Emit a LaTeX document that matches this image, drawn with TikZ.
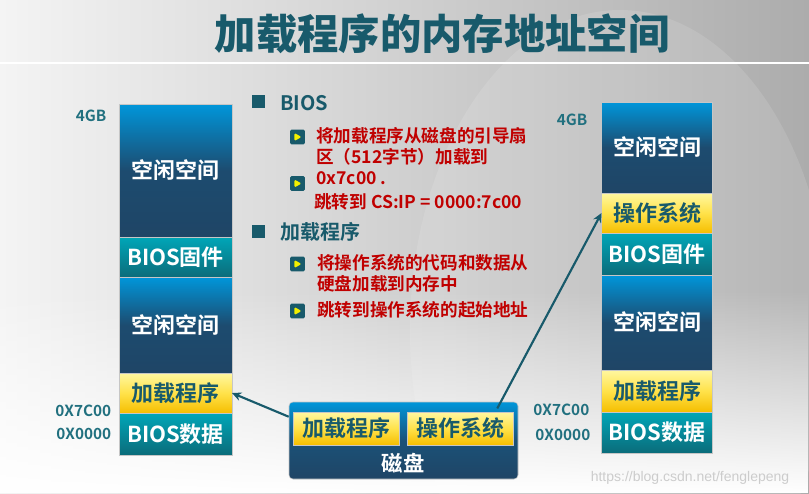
\documentclass[tikz,border=0pt]{standalone}
\usepackage{fontspec}
\setmainfont{Noto Sans CJK SC}[BoldFont={Noto Sans CJK SC Bold}]
\newfontfamily\heavyfont{Noto Sans CJK SC Black}
\newfontfamily\urlfont{Liberation Sans}
\usetikzlibrary{arrows.meta,fadings}

\definecolor{tealdk}{HTML}{185A6B}
\definecolor{addrc}{HTML}{21707F}
\definecolor{redtx}{HTML}{C00000}
\definecolor{bluetop}{HTML}{0096DA}
\definecolor{navy}{HTML}{1F4566}
\definecolor{tealtop}{HTML}{00A6B8}
\definecolor{tealbot}{HTML}{0B6C7A}
\definecolor{yeltop}{HTML}{FFF7A0}
\definecolor{yelmid}{HTML}{FFE24A}
\definecolor{yelbot}{HTML}{F5BE00}
\definecolor{bulyel}{HTML}{F2F000}
\definecolor{bgl}{HTML}{F4F4F4}
\definecolor{bgr}{HTML}{ACACAC}

\begin{document}
\begin{tikzpicture}[
  x=0.75pt, y=-0.75pt,
  blk/.style={draw=gray!45, line width=0.4pt, inner sep=0pt, outer sep=0pt, anchor=north, text=white, font=\fontsize{16.5}{18}\selectfont\bfseries},
  free/.style={blk, top color=bluetop, bottom color=navy, middle color=navy!92!bluetop},
  bios/.style={blk, top color=tealtop, bottom color=tealbot},
  yel/.style={blk, top color=yeltop, bottom color=yelbot, middle color=yelmid, text=tealdk},
  disk/.style={rounded corners=3pt, draw=gray!45, line width=0.4pt, top color=bluetop, bottom color=navy, middle color=navy!85!bluetop, inner sep=0pt},
  addr/.style={anchor=east, text=addrc, font=\fontsize{11.5}{12}\selectfont\bfseries},
  sq/.style={fill=tealdk, minimum size=9.75pt, inner sep=0pt},
  bul/.style={fill=tealdk, rounded corners=1pt, minimum size=11pt, inner sep=0pt,
    path picture={\fill[bulyel] ([xshift=-2.3pt,yshift=3pt]path picture bounding box.center) -- ([xshift=3pt]path picture bounding box.center) -- ([xshift=-2.3pt,yshift=-3pt]path picture bounding box.center) -- cycle;}},
  head/.style={anchor=west, text=tealdk, font=\fontsize{15}{17}\selectfont\bfseries, inner sep=0pt},
  red/.style={anchor=west, align=left, text=redtx, font=\fontsize{13.2}{15.75}\selectfont\bfseries, inner sep=0pt},
  arr/.style={-{Stealth[length=7pt, width=6.5pt]}, draw=tealdk, line width=1.6pt},
]
% --- background ---
\useasboundingbox (0,0) rectangle (809,493);
\shade[left color=bgl, right color=bgr] (0,0) rectangle (809,493);
\fill[white, opacity=0.12] (620,330) ellipse [x radius=210, y radius=320];
\fill[white, path fading=north] (0,290) rectangle (809,493);
\draw[white, line width=1.4pt] (0,63) -- (809,63);

% --- title ---
\node[text=tealdk, font=\heavyfont\fontsize{31}{34}\selectfont] (ttl) at (442,34) {加载程序的内存地址空间};

% --- left memory map ---
\node[free, minimum width=84.75pt, minimum height=99.75pt] (lfree1) at (175.5,104) {空闲空间};
\node[bios, minimum width=84.75pt, minimum height=30pt]    (lfw)    at (175.5,237) {BIOS固件};
\node[free, minimum width=84.75pt, minimum height=72pt]    (lfree2) at (175.5,277) {空闲空间};
\node[yel,  minimum width=84.75pt, minimum height=30pt]    (lload)  at (175.5,373) {加载程序};
\node[bios, minimum width=84.75pt, minimum height=31.5pt]  (ldata)  at (175.5,413) {BIOS数据};
\node[addr] (l4g) at (111,116) {4GB};
\node[addr] (l7c) at (116,411) {0X7C00};
\node[addr] (l00) at (116,434) {0X0000};

% --- right memory map ---
\node[free, minimum width=83.25pt, minimum height=68.25pt] (rfree1) at (657,102) {空闲空间};
\node[yel,  minimum width=83.25pt, minimum height=30pt]    (ros)    at (657,193) {操作系统};
\node[bios, minimum width=83.25pt, minimum height=31.5pt]  (rfw)    at (657,233) {BIOS固件};
\node[free, minimum width=83.25pt, minimum height=71.25pt] (rfree2) at (657,275) {空闲空间};
\node[yel,  minimum width=83.25pt, minimum height=31.5pt]  (rload)  at (657,370) {加载程序};
\node[bios, minimum width=83.25pt, minimum height=30.75pt] (rdata)  at (657,412) {BIOS数据};
\node[addr] (r4g) at (592,120) {4GB};
\node[addr] (r7c) at (594,410) {0X7C00};
\node[addr] (r00) at (595,435) {0X0000};

% --- disk ---
\node[disk, minimum width=171.75pt, minimum height=57.75pt] (disk) at (403.5,440.5) {};
\node[yel, anchor=center, minimum width=79.5pt, minimum height=24.75pt] (dload) at (346,428.5) {加载程序};
\node[yel, anchor=center, minimum width=79.5pt, minimum height=24.75pt] (dos)   at (460,428.5) {操作系统};
\node[text=white, font=\fontsize{16}{18}\selectfont\bfseries] (dlbl) at (403,463) {磁盘};

% --- notes ---
\node[sq] (hbios) at (258.5,101.5) {};
\node[head] (tbios) at (280,103) {BIOS};
\node[bul] (b1) at (297.5,137) {};
\node[red] (p1) at (316,156) {将加载程序从磁盘的引导扇\\区（512字节）加载到\\0x7c00 .};
\node[bul] (b2) at (297.5,183.5) {};
\node[red] (p2) at (314,202) {跳转到 CS:IP = 0000:7c00};
\node[sq] (hload) at (258.5,231) {};
\node[head] (tload) at (280,232) {加载程序};
\node[bul] (b3) at (297.5,264) {};
\node[red] (p3) at (317,273.5) {将操作系统的代码和数据从\\硬盘加载到内存中};
\node[bul] (b4) at (297.5,311) {};
\node[red] (p4) at (317,310) {跳转到操作系统的起始地址};

% --- arrows ---
\draw[arr] ([yshift=-11.25pt]disk.north west) -- (lload.east);
\draw[arr] ([xshift=-15.75pt,yshift=-5pt]disk.north east) -- (ros.west);

\node[text=black!20, font=\urlfont\fontsize{10.5}{12}\selectfont] (wm) at (690,478) {https://blog.csdn.net/fenglepeng};
\end{tikzpicture}
\end{document}
